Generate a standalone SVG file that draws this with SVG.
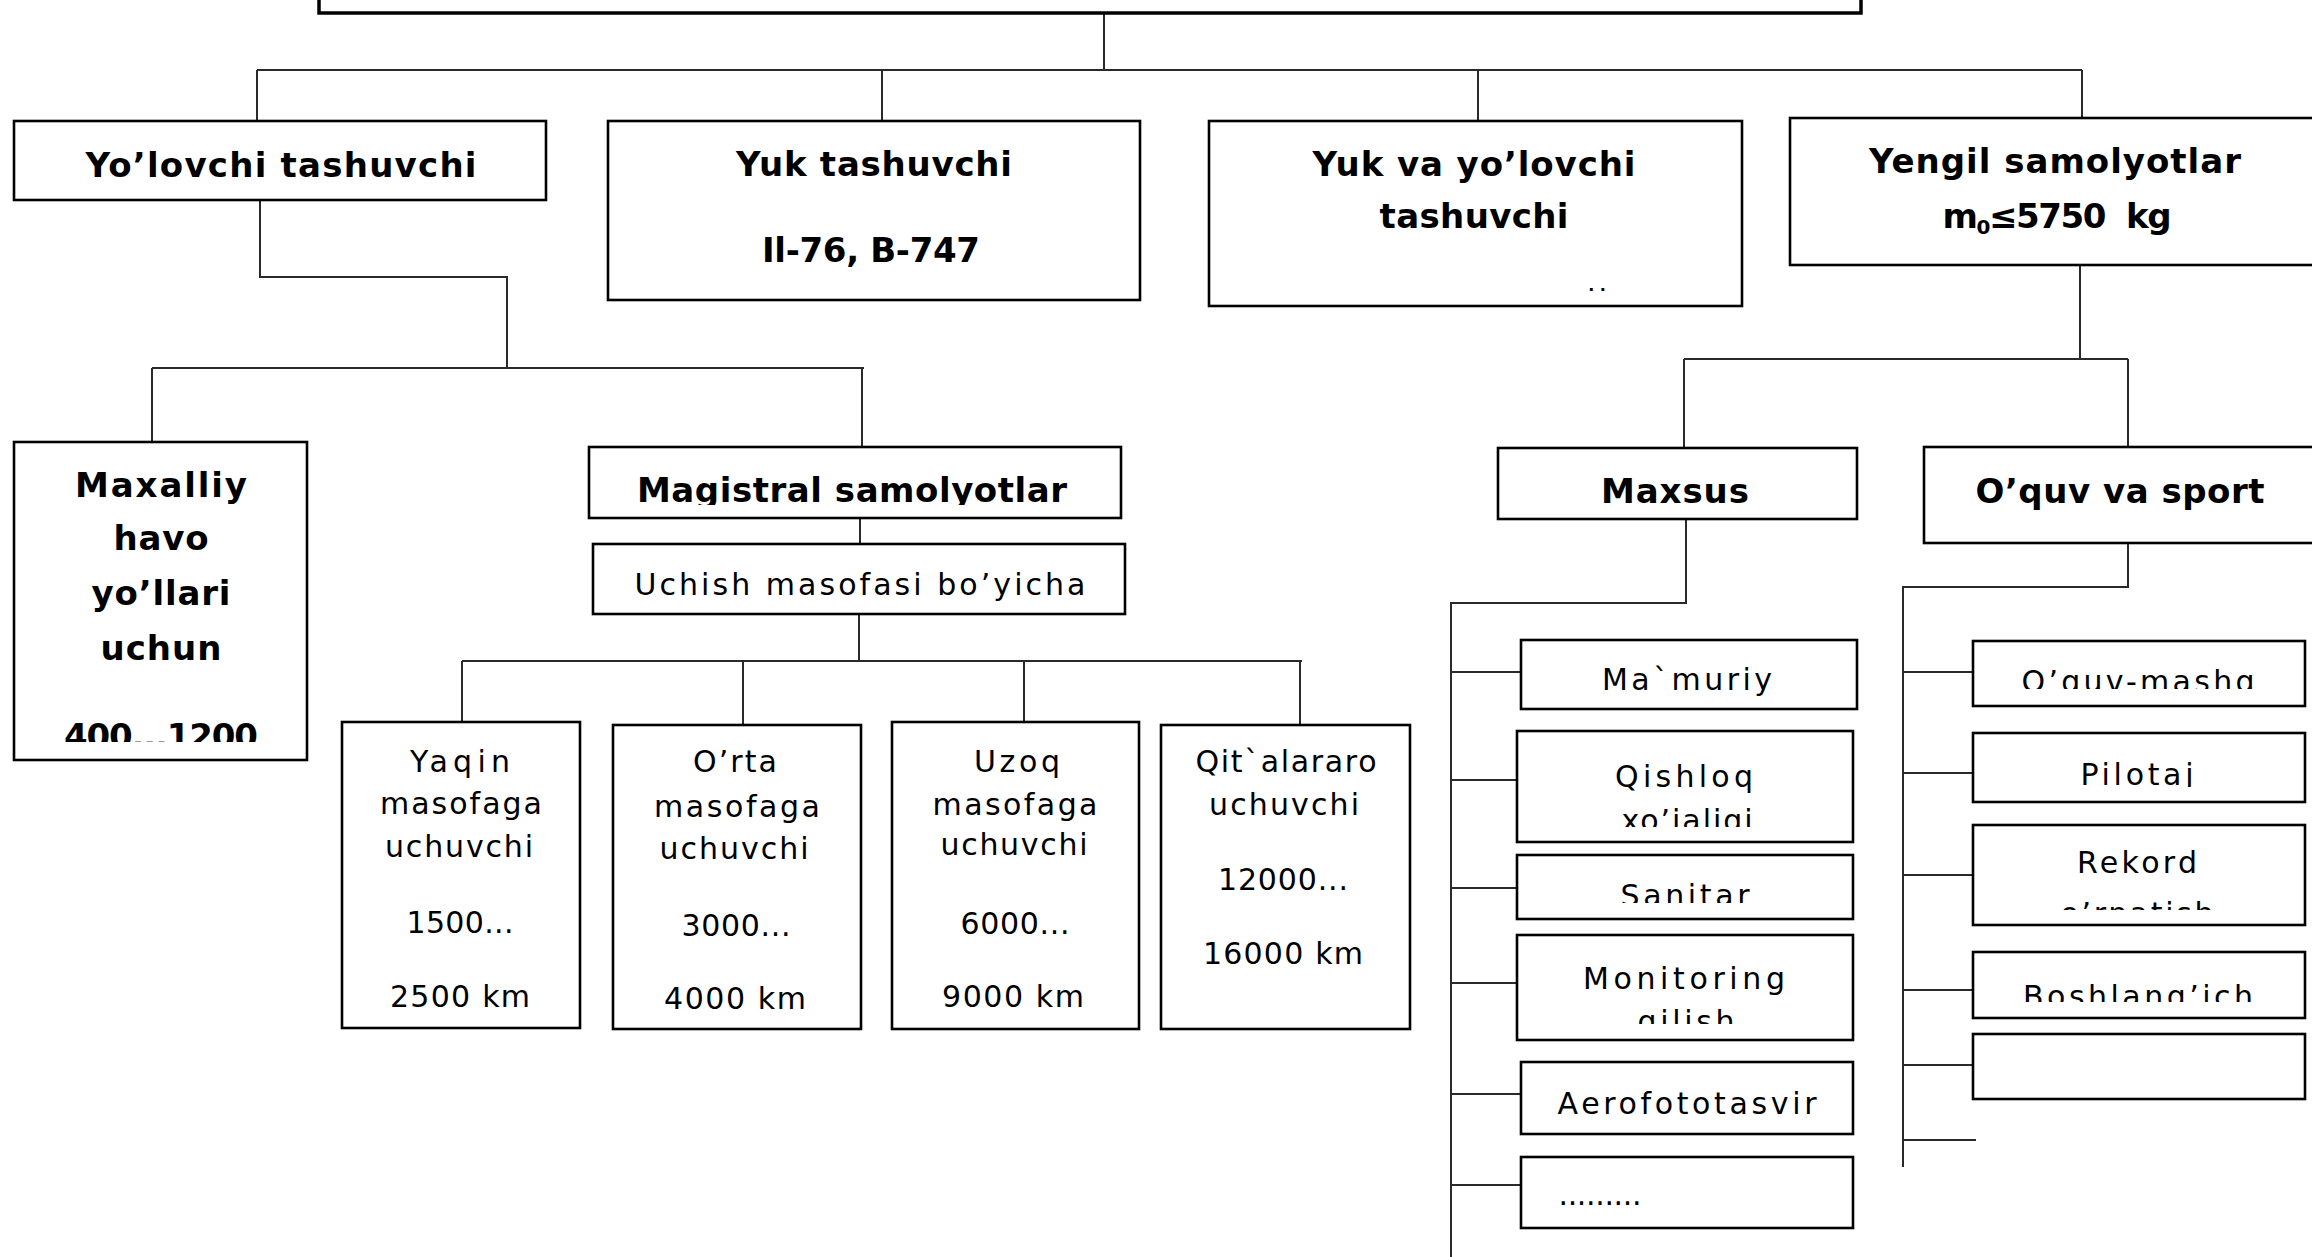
<svg xmlns="http://www.w3.org/2000/svg" width="2312" height="1257" viewBox="0 0 2312 1257">
<style>
.bx{fill:#fff;stroke:#000;stroke-width:2.6}
.cn{fill:none;stroke:#2a2a2a;stroke-width:2}
.r{font-family:"DejaVu Sans",Verdana,sans-serif;font-size:30px;fill:#000;text-anchor:middle}
.b{font-family:"DejaVu Sans","Liberation Sans",sans-serif;font-weight:bold;font-size:34px;fill:#000;text-anchor:middle}
</style>
<defs>
<clipPath id="c400"><rect x="14" y="442" width="293" height="300"/></clipPath>
<clipPath id="cMag"><rect x="589" y="447" width="532" height="58"/></clipPath>
<clipPath id="cQ"><rect x="1517" y="731" width="336" height="96"/></clipPath>
<clipPath id="cS"><rect x="1517" y="855" width="336" height="48"/></clipPath>
<clipPath id="cM"><rect x="1517" y="935" width="336" height="89"/></clipPath>
<clipPath id="cO"><rect x="1973" y="641" width="332" height="48"/></clipPath>
<clipPath id="cP"><rect x="1973" y="733" width="332" height="54"/></clipPath>
<clipPath id="cR"><rect x="1973" y="825" width="332" height="85"/></clipPath>
<clipPath id="cB"><rect x="1973" y="952" width="332" height="50"/></clipPath>
</defs>

<g id="connectors">
<path class="cn" d="M1104 13V70M257 70H2082M257 70V121M882 70V121M1478 70V121M2082 70V118"/>
<path class="cn" d="M260 200V277H507V368M152 368H864M152 368V442M862 368V447"/>
<path class="cn" d="M860 518V544M859 614V661M462 661H1302M462 661V722M743 661V725M1024 661V722M1300 661V725"/>
<path class="cn" d="M2080 265V359M1684 359H2128M1684 359V448M2128 359V447"/>
<path class="cn" d="M1686 519V603H1451V1257M1451 672H1521M1451 780H1517M1451 888H1517M1451 983H1517M1451 1094H1521M1451 1185H1521"/>
<path class="cn" d="M2128 519V587H1903V1167M1903 672H1973M1903 773H1973M1903 875H1973M1903 990H1973M1903 1065H1973M1903 1140H1976"/>
</g>

<g id="top"><rect class="bx" x="319" y="-20" width="1542" height="33" style="stroke-width:3.5"/></g>

<g id="yolovchi"><rect class="bx" x="14" y="121" width="532" height="79"/>
<text class="b" x="281" y="177" textLength="391">Yo’lovchi tashuvchi</text></g>

<g id="yuk"><rect class="bx" x="608" y="121" width="532" height="179"/>
<text class="b" x="874" y="176" textLength="276">Yuk tashuvchi</text>
<text class="b" x="871" y="262" textLength="218">Il-76, B-747</text></g>

<g id="yukyolovchi"><rect class="bx" x="1209" y="121" width="533" height="185"/>
<text class="b" x="1474" y="176" textLength="323">Yuk va yo’lovchi</text>
<text class="b" x="1474" y="228" textLength="189">tashuvchi</text>
<text class="b" x="1597" y="291" style="font-size:16px">. .</text></g>

<g id="yengil"><rect class="bx" x="1790" y="118" width="560" height="147"/>
<text class="b" x="2055" y="173" textLength="372">Yengil samolyotlar</text>
<text class="b" x="2057" y="228" textLength="229" style="white-space:pre">m<tspan style="font-size:20px" dy="6">0</tspan><tspan dy="-6">≤5750  kg</tspan></text></g>

<g id="maxalliy"><rect class="bx" x="14" y="442" width="293" height="318"/>
<text class="b" x="161" y="497" textLength="172">Maxalliy</text>
<text class="b" x="161" y="550" textLength="95">havo</text>
<text class="b" x="161" y="605" textLength="139">yo’llari</text>
<text class="b" x="161" y="660" textLength="121">uchun</text>
<text class="b" x="161" y="748" textLength="194" clip-path="url(#c400)">400...1200</text></g>

<g id="magistral"><rect class="bx" x="589" y="447" width="532" height="71"/>
<text class="b" x="852" y="502" textLength="430" clip-path="url(#cMag)">Magistral samolyotlar</text></g>

<g id="uchish"><rect class="bx" x="593" y="544" width="532" height="70"/>
<text class="r" x="860" y="595" textLength="451">Uchish masofasi bo’yicha</text></g>

<g id="yaqin"><rect class="bx" x="342" y="722" width="238" height="306"/>
<text class="r" x="460" y="772" textLength="100">Yaqin</text>
<text class="r" x="461" y="814" textLength="162">masofaga</text>
<text class="r" x="459" y="857" textLength="148">uchuvchi</text>
<text class="r" x="460" y="933" textLength="107">1500...</text>
<text class="r" x="460" y="1007" textLength="140">2500 km</text></g>

<g id="orta"><rect class="bx" x="613" y="725" width="248" height="304"/>
<text class="r" x="735" y="772" textLength="84">O’rta</text>
<text class="r" x="737" y="817" textLength="166">masofaga</text>
<text class="r" x="734" y="859" textLength="149">uchuvchi</text>
<text class="r" x="736" y="936" textLength="109">3000...</text>
<text class="r" x="735" y="1009" textLength="142">4000 km</text></g>

<g id="uzoq"><rect class="bx" x="892" y="722" width="247" height="307"/>
<text class="r" x="1017" y="772" textLength="86">Uzoq</text>
<text class="r" x="1015" y="815" textLength="165">masofaga</text>
<text class="r" x="1014" y="855" textLength="147">uchuvchi</text>
<text class="r" x="1015" y="934" textLength="109">6000...</text>
<text class="r" x="1013" y="1007" textLength="142">9000 km</text></g>

<g id="qitalararo"><rect class="bx" x="1161" y="725" width="249" height="304"/>
<text class="r" x="1286" y="772" textLength="181">Qit`alararo</text>
<text class="r" x="1284" y="815" textLength="150">uchuvchi</text>
<text class="r" x="1283" y="890" textLength="130">12000...</text>
<text class="r" x="1283" y="964" textLength="160">16000 km</text></g>

<g id="maxsus"><rect class="bx" x="1498" y="448" width="359" height="71"/>
<text class="b" x="1675" y="503" textLength="148">Maxsus</text></g>

<g id="oquvsport"><rect class="bx" x="1924" y="447" width="420" height="96"/>
<text class="b" x="2120" y="503" textLength="289">O’quv va sport</text></g>

<g id="mamuriy"><rect class="bx" x="1521" y="640" width="336" height="69"/>
<text class="r" x="1687" y="690" textLength="170">Ma`muriy</text></g>

<g id="qishloq"><rect class="bx" x="1517" y="731" width="336" height="111"/>
<text class="r" x="1684" y="787" textLength="138">Qishloq</text>
<text class="r" x="1687" y="831" textLength="131" clip-path="url(#cQ)">xo’jaligi</text></g>

<g id="sanitar"><rect class="bx" x="1517" y="855" width="336" height="64"/>
<text class="r" x="1685" y="906" textLength="129" clip-path="url(#cS)">Sanitar</text></g>

<g id="monitoring"><rect class="bx" x="1517" y="935" width="336" height="105"/>
<text class="r" x="1684" y="989" textLength="202">Monitoring</text>
<text class="r" x="1686" y="1032" textLength="97" clip-path="url(#cM)">qilish</text></g>

<g id="aerofoto"><rect class="bx" x="1521" y="1062" width="332" height="72"/>
<text class="r" x="1687" y="1114" textLength="259">Aerofototasvir</text></g>

<g id="boshqa"><rect class="bx" x="1521" y="1157" width="332" height="71"/>
<text class="r" x="1600" y="1205" textLength="83">.........</text></g>

<g id="oquvmashq"><rect class="bx" x="1973" y="641" width="332" height="65"/>
<text class="r" x="2138" y="692" textLength="233" clip-path="url(#cO)">O’quv-mashq</text></g>

<g id="pilotaj"><rect class="bx" x="1973" y="733" width="332" height="69"/>
<text class="r" x="2137" y="785" textLength="113" clip-path="url(#cP)">Pilotaj</text></g>

<g id="rekord"><rect class="bx" x="1973" y="825" width="332" height="100"/>
<text class="r" x="2137" y="873" textLength="120">Rekord</text>
<text class="r" x="2137" y="924" textLength="153" clip-path="url(#cR)">o’rnatish</text></g>

<g id="boshlangich"><rect class="bx" x="1973" y="952" width="332" height="66"/>
<text class="r" x="2138" y="1007" textLength="230" clip-path="url(#cB)">Boshlang’ich</text></g>

<g id="bosh"><rect class="bx" x="1973" y="1034" width="332" height="65"/></g>
</svg>
